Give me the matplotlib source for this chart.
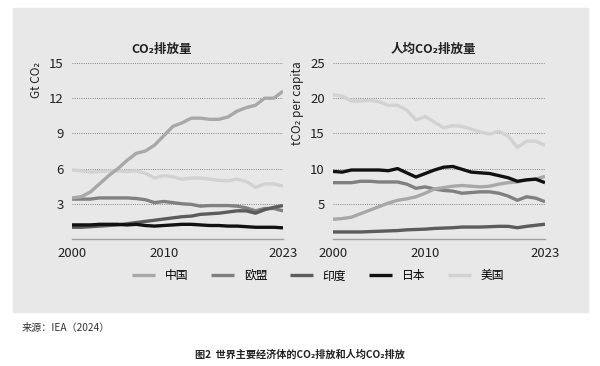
import matplotlib
matplotlib.use('Agg')
import matplotlib.pyplot as plt
from matplotlib.patches import Rectangle
import numpy as np

plt.rcParams['font.family'] = ['Noto Sans CJK SC', 'DejaVu Sans']

years = np.arange(2000, 2024)

# total emissions, Gt CO2
china_total = [3.5, 3.6, 4.0, 4.7, 5.4, 6.0, 6.7, 7.3, 7.5, 8.0, 8.8, 9.6,
               9.9, 10.3, 10.3, 10.2, 10.2, 10.4, 10.9, 11.2, 11.4, 12.0, 12.0, 12.6]
eu_total = [3.4, 3.4, 3.4, 3.5, 3.5, 3.5, 3.5, 3.45, 3.35, 3.1, 3.2, 3.1,
            3.0, 2.95, 2.8, 2.85, 2.85, 2.85, 2.8, 2.65, 2.4, 2.6, 2.6, 2.4]
india_total = [1.0, 1.0, 1.05, 1.1, 1.15, 1.2, 1.3, 1.4, 1.5, 1.6, 1.7, 1.8,
               1.9, 1.95, 2.1, 2.15, 2.2, 2.3, 2.4, 2.4, 2.2, 2.5, 2.7, 2.85]
japan_total = [1.2, 1.2, 1.2, 1.25, 1.25, 1.25, 1.2, 1.25, 1.15, 1.1, 1.15, 1.2,
               1.25, 1.25, 1.2, 1.15, 1.15, 1.1, 1.1, 1.05, 1.0, 1.0, 1.0, 0.95]
us_total = [5.9, 5.8, 5.7, 5.75, 5.8, 5.8, 5.75, 5.8, 5.6, 5.2, 5.4, 5.3,
            5.1, 5.2, 5.2, 5.1, 5.0, 4.95, 5.1, 4.9, 4.4, 4.7, 4.7, 4.5]

# per capita, t CO2
china_pc = [2.8, 2.9, 3.1, 3.6, 4.1, 4.6, 5.1, 5.5, 5.7, 6.0, 6.5, 7.1,
            7.3, 7.5, 7.6, 7.5, 7.4, 7.5, 7.8, 8.0, 8.1, 8.4, 8.5, 8.9]
eu_pc = [8.0, 8.0, 8.0, 8.2, 8.2, 8.1, 8.1, 8.1, 7.8, 7.2, 7.4, 7.1,
         6.9, 6.8, 6.5, 6.6, 6.7, 6.7, 6.5, 6.1, 5.5, 6.0, 5.8, 5.3]
india_pc = [1.0, 1.0, 1.0, 1.0, 1.05, 1.1, 1.15, 1.2, 1.3, 1.35, 1.4, 1.5,
            1.55, 1.6, 1.7, 1.7, 1.7, 1.75, 1.8, 1.8, 1.6, 1.8, 1.95, 2.1]
japan_pc = [9.6, 9.5, 9.8, 9.8, 9.8, 9.8, 9.7, 10.0, 9.4, 8.8, 9.3, 9.8,
            10.2, 10.3, 9.9, 9.5, 9.4, 9.3, 9.0, 8.7, 8.2, 8.4, 8.5, 8.0]
us_pc = [20.5, 20.3, 19.6, 19.6, 19.7, 19.5, 19.0, 19.0, 18.3, 16.9, 17.4, 16.6,
         15.8, 16.1, 16.0, 15.6, 15.2, 14.9, 15.3, 14.6, 13.0, 13.9, 13.9, 13.3]

names = ["中国", "欧盟", "印度", "日本", "美国"]
colors = ["#a8a8a8", "#808080", "#5c5c5c", "#111111", "#d2d2d2"]
# draw order: back to front
order = [4, 1, 0, 2, 3]

fig = plt.figure(figsize=(6, 3.66), dpi=100)
fig.patches.append(Rectangle((13 / 600, 1 - 312 / 366), 575 / 600, 304 / 366,
                             transform=fig.transFigure, color="#e8e8e8", zorder=-10))

ax1 = fig.add_axes([72 / 600, 1 - 239 / 366, 211 / 600, 176 / 366])
ax2 = fig.add_axes([333 / 600, 1 - 239 / 366, 212 / 600, 176 / 366])

panels = [
    (ax1, [china_total, eu_total, india_total, japan_total, us_total], 15, [3, 6, 9, 12, 15]),
    (ax2, [china_pc, eu_pc, india_pc, japan_pc, us_pc], 25, [5, 10, 15, 20, 25]),
]

for ax, series, ymax, ticks in panels:
    ax.set_facecolor("none")
    for i in order:
        ax.plot(years, series[i], color=colors[i], lw=2.4, label=names[i],
                solid_capstyle='butt', zorder=3)
    ax.set_xlim(2000, 2023)
    ax.set_ylim(0, ymax)
    ax.set_yticks(ticks)
    ax.set_xticks([2000, 2010, 2023])
    ax.yaxis.grid(True, linestyle=(0, (1, 1.3)), color="#858585", lw=0.7)
    ax.set_axisbelow(True)
    for s in ["top", "right", "left"]:
        ax.spines[s].set_visible(False)
    ax.spines["bottom"].set_color("#a0a0a0")
    ax.spines["bottom"].set_linewidth(1.0)
    ax.tick_params(length=0, labelsize=9.5, colors="#222222", pad=6)
    for lab in ax.get_xticklabels() + ax.get_yticklabels():
        lab.set_fontweight('medium')

fig.text(162 / 600, 1 - 49 / 366, "CO₂排放量", ha='center', va='center',
         fontsize=9, fontweight='bold', color="#222222")
fig.text(433 / 600, 1 - 49 / 366, "人均CO₂排放量", ha='center', va='center',
         fontsize=9, fontweight='bold', color="#222222")
fig.text(36 / 600, 1 - 80 / 366, "Gt CO₂", rotation=90, ha='center', va='center',
         fontsize=8.5, color="#222222")
fig.text(298 / 600, 1 - 103 / 366, "tCO₂ per capita", rotation=90, ha='center',
         va='center', fontsize=8.5, color="#222222")

handles, labels = ax1.get_legend_handles_labels()
hmap = dict(zip(labels, handles))
fig.legend([hmap[n] for n in names], names, loc='center', ncol=5,
           bbox_to_anchor=(318 / 600, 1 - 276 / 366), frameon=False,
           fontsize=8.5, handlelength=2.0, columnspacing=1.9, handletextpad=0.8)

fig.text(22 / 600, 1 - 328 / 366, "来源：IEA（2024）", ha='left', va='center',
         fontsize=7.3, color="#333333")
fig.text(300 / 600, 1 - 355 / 366, "图2  世界主要经济体的CO₂排放和人均CO₂排放",
         ha='center', va='center', fontsize=7.3, fontweight='bold', color="#222222")

fig.savefig("out.png", dpi=100)
